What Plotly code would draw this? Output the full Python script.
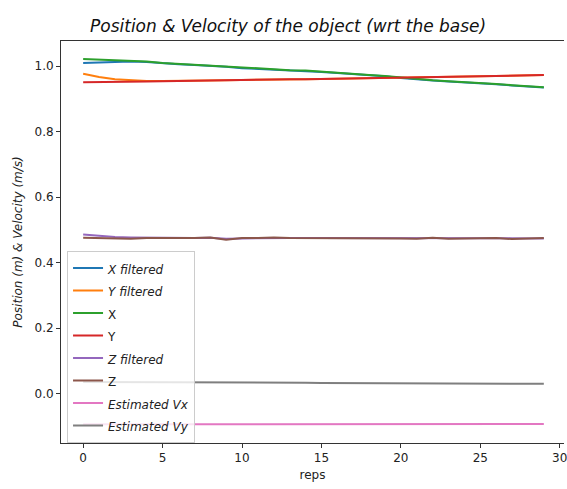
import plotly.graph_objects as go

reps = list(range(30))

x_filtered = [1.010, 1.012, 1.014, 1.014, 1.013, 1.009, 1.006, 1.004, 1.002, 0.998,
              0.994, 0.992, 0.990, 0.987, 0.986, 0.982, 0.979, 0.976, 0.972, 0.969,
              0.964, 0.959, 0.956, 0.953, 0.951, 0.948, 0.945, 0.941, 0.938, 0.935]
y_filtered = [0.977, 0.967, 0.960, 0.957, 0.955, 0.955, 0.955, 0.955, 0.956, 0.957,
              0.958, 0.958, 0.959, 0.960, 0.960, 0.961, 0.962, 0.962, 0.963, 0.964,
              0.964, 0.965, 0.966, 0.967, 0.968, 0.969, 0.970, 0.971, 0.972, 0.973]
x_raw = [1.022, 1.020, 1.018, 1.017, 1.014, 1.010, 1.007, 1.005, 1.003, 0.999,
         0.995, 0.993, 0.991, 0.988, 0.987, 0.983, 0.980, 0.977, 0.973, 0.970,
         0.965, 0.960, 0.957, 0.954, 0.952, 0.949, 0.946, 0.942, 0.939, 0.936]
y_raw = [0.951, 0.951, 0.952, 0.952, 0.953, 0.954, 0.955, 0.955, 0.956, 0.957,
         0.958, 0.958, 0.959, 0.960, 0.960, 0.961, 0.962, 0.962, 0.963, 0.964,
         0.964, 0.965, 0.966, 0.967, 0.968, 0.969, 0.970, 0.971, 0.972, 0.973]
z_filtered = [0.486, 0.481, 0.478, 0.477, 0.476, 0.475, 0.475, 0.475, 0.476, 0.473,
              0.474, 0.475, 0.476, 0.475, 0.475, 0.475, 0.475, 0.475, 0.474, 0.474,
              0.474, 0.474, 0.475, 0.474, 0.473, 0.474, 0.474, 0.473, 0.473, 0.474]
z_raw = [0.476, 0.475, 0.473, 0.473, 0.475, 0.474, 0.475, 0.475, 0.477, 0.470,
         0.475, 0.475, 0.477, 0.475, 0.475, 0.476, 0.474, 0.475, 0.474, 0.474,
         0.474, 0.473, 0.476, 0.473, 0.473, 0.474, 0.475, 0.472, 0.473, 0.475]
vx_est = [-0.094, -0.094, -0.094, -0.094, -0.094, -0.094, -0.094, -0.094, -0.094, -0.094,
          -0.094, -0.094, -0.094, -0.093, -0.093, -0.093, -0.093, -0.093, -0.093, -0.093,
          -0.093, -0.093, -0.093, -0.093, -0.093, -0.093, -0.093, -0.093, -0.093, -0.093]
vy_est = [0.035, 0.035, 0.035, 0.034, 0.034, 0.034, 0.034, 0.034, 0.034, 0.033,
          0.033, 0.033, 0.033, 0.033, 0.033, 0.032, 0.032, 0.032, 0.032, 0.032,
          0.032, 0.031, 0.031, 0.031, 0.031, 0.031, 0.031, 0.030, 0.030, 0.030]

series = [
    ("X filtered", True, x_filtered, "#1f77b4"),
    ("Y filtered", True, y_filtered, "#ff7f0e"),
    ("X", False, x_raw, "#2ca02c"),
    ("Y", False, y_raw, "#d62728"),
    ("Z filtered", True, z_filtered, "#9467bd"),
    ("Z", False, z_raw, "#8c564b"),
    ("Estimated Vx", True, vx_est, "#e377c2"),
    ("Estimated Vy", True, vy_est, "#7f7f7f"),
]

FONT = "DejaVu Sans"


def legend_label(text, italic):
    # legend rows are spaced for a 15px font while the label itself stays 12px
    inner = f"<i>{text}</i>" if italic else text
    return f"<span style='font-size:12px'>{inner}</span>"


fig = go.Figure()
for name, italic, vals, color in series:
    fig.add_trace(go.Scatter(x=reps, y=vals, mode="lines", name=legend_label(name, italic),
                             line=dict(color=color, width=2)))

fig.update_layout(
    width=567, height=489,
    margin=dict(l=61, r=0, t=41, b=46),
    paper_bgcolor="white", plot_bgcolor="white",
    font=dict(family=FONT, size=12, color="#222"),
    showlegend=True,
    legend=dict(x=0.012, y=0.478, xanchor="left", yanchor="top",
                bgcolor="rgba(255,255,255,0.8)", bordercolor="#cccccc",
                borderwidth=1, font=dict(family=FONT, size=15, color="#222"),
                itemwidth=30, tracegroupgap=0),
    annotations=[dict(text="<i>Position & Velocity of the object (wrt the base)</i>",
                      xref="paper", yref="paper", x=(289 - 61) / 506, y=1,
                      yshift=15, xanchor="center", yanchor="middle",
                      showarrow=False, font=dict(family=FONT, size=17, color="#111"))],
)
fig.update_xaxes(range=[-1.395, 30.27], tickvals=[0, 5, 10, 15, 20, 25, 30],
                 ticklabeloverflow="allow",
                 showline=True, linecolor="#333", linewidth=1, mirror=True,
                 ticks="outside", ticklen=4, tickcolor="#333", showgrid=False,
                 zeroline=False, title=dict(text="reps", font=dict(size=12), standoff=6))
fig.update_yaxes(range=[-0.151, 1.077], tickvals=[0.0, 0.2, 0.4, 0.6, 0.8, 1.0],
                 tickformat=".1f",
                 showline=True, linecolor="#333", linewidth=1, mirror=False,
                 ticks="outside", ticklen=4, tickcolor="#333", showgrid=False,
                 zeroline=False,
                 title=dict(text="<i>Position (m) & Velocity (m/s)</i>",
                            font=dict(size=12), standoff=9))

fig.write_html("out.html")
